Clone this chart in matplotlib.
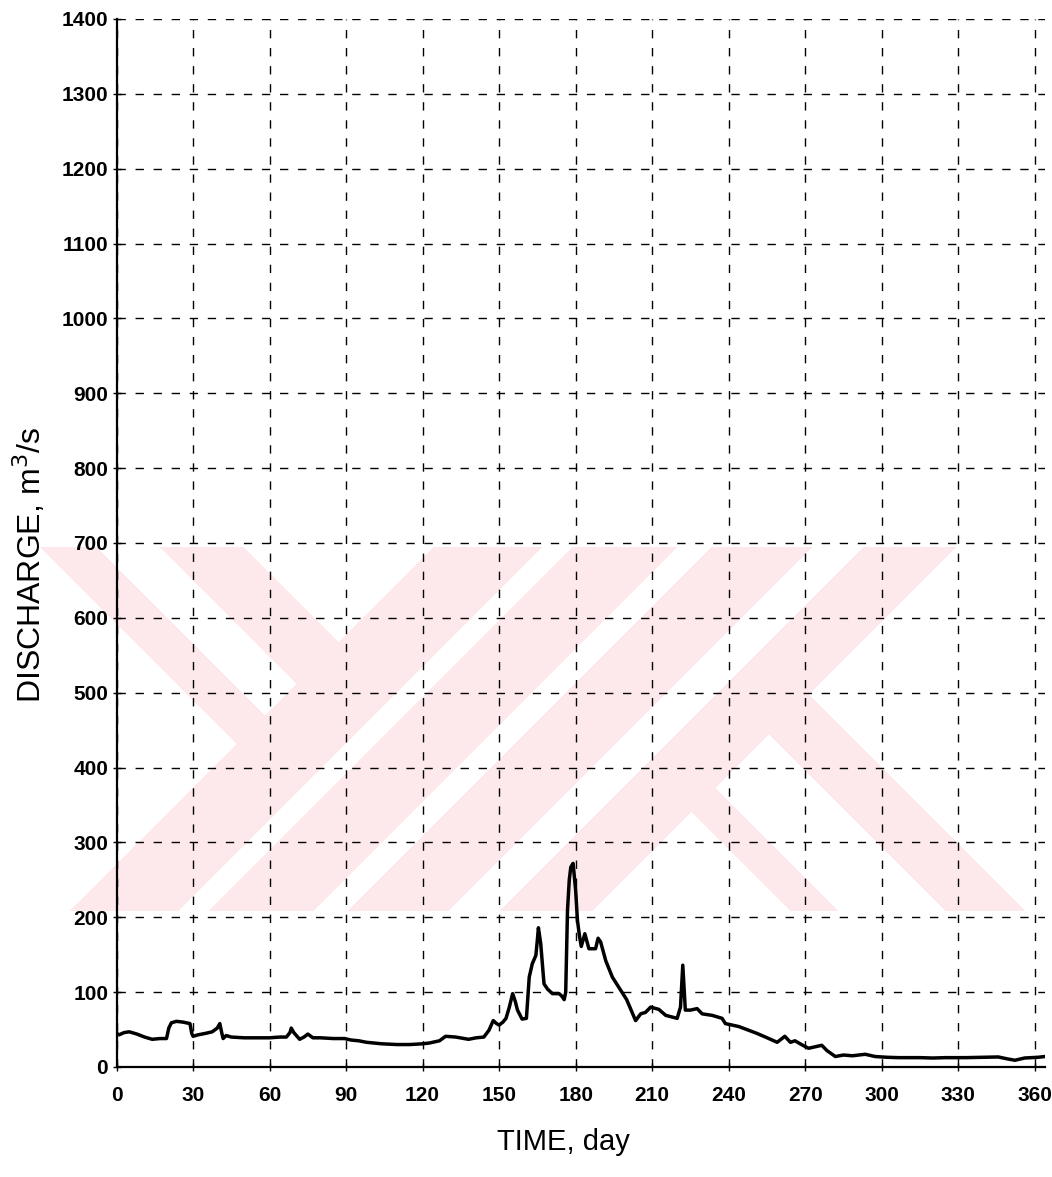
#
#  plot.py
#  Hydrogramme annuel : débit journalier en fonction du temps.
#

import numpy as np
import matplotlib
matplotlib.use('Agg')
import matplotlib.pyplot as plt

# ==========
# = Données =
# ==========

# Jour de l'année
jours = [0, 1, 3, 5, 8, 11, 14, 17, 19.6, 20.5, 21.5, 23.5, 26, 28.8, 29.5,
         30, 32, 35, 37.5, 39.5, 40.5, 41.3, 41.8, 43, 45, 50, 55, 60, 64,
         66.6, 68, 68.5, 69.5, 71.8, 73.5, 75, 77, 80, 85, 89.4, 92, 95, 98,
         101, 104, 110, 115, 120, 122.6, 126.6, 129, 133, 138, 141, 144, 146,
         147.7, 149, 150, 151.5, 152.7, 154, 155.3, 156.3, 157.2, 159, 160.7,
         161.8, 163, 164.4, 165, 165.4, 166.3, 167.6, 169, 170.9, 173.5,
         174.5, 175.5, 176.1, 176.8, 177.5, 178.1, 179, 180, 180.7, 181.5,
         182.2, 183.6, 185.2, 187.8, 188.8, 189.8, 191.8, 194.4, 197.6, 200,
         203.5, 205.5, 207.4, 209.4, 212.6, 215.3, 219.8, 221.1, 222, 223,
         225, 227.6, 229.6, 233.5, 237.4, 238.7, 244, 247.9, 251, 254.4, 257,
         259, 262, 264.2, 266, 268.5, 271.3, 274, 276.5, 278.5, 281.8, 285,
         288.5, 293.5, 297.4, 302, 306.5, 315, 320, 325, 333, 340, 345.7, 349,
         352.2, 356, 361.3, 364]

# Débit (m3/s)
debits = [45, 43, 46, 47, 44, 40, 37, 38, 38, 52, 59, 61, 60, 58, 45,
          41, 43, 45, 47, 52, 58, 45, 38, 42, 40, 39, 39, 39, 40,
          40, 46, 52, 46, 37, 40, 44, 39, 39, 38, 38, 36, 35, 33,
          32, 31, 30, 30, 31, 32, 35, 41, 40, 37, 39, 40, 49,
          62, 58, 56, 60, 65, 80, 98, 88, 76, 64, 65,
          120, 138, 149, 170, 186, 165, 111, 104, 98, 98,
          95, 90, 100, 209, 250, 267, 272, 236, 196, 175,
          161, 178, 158, 158, 172, 167, 142, 120, 103, 90,
          62, 71, 73, 80, 77, 69, 65, 80, 136, 76,
          76, 78, 71, 69, 65, 58, 54, 49, 45, 40, 36,
          33, 41, 33, 35, 30, 25, 27, 29, 22, 14, 16,
          15, 17, 14, 13, 12.5, 12.5, 12, 12.5, 12.5, 13, 13.4, 11,
          9, 12, 13, 14]

graduations_x = np.arange(0, 361, 30)
graduations_y = np.arange(0, 1401, 100)

# ===========
# = Figure =
# ===========

L, H = 1052, 1177
fig = plt.figure(figsize=(L / 100, H / 100), dpi=100)

# Filigrane rose en arrière-plan (bandes obliques), en pixels de la figure
yy, xx = np.mgrid[0:H, 0:L]
s = xx + yy
d = xx - yy
haut_gauche = (s < 980) & (((d >= -507) & (d < -450)) | ((d >= -387) & (d < -303)))
bandes = (((s >= 980) & (s < 1089)) | ((s >= 1119) & (s < 1224)) |
          ((s >= 1258) & (s < 1359)) | ((s >= 1410) & (s < 1503)))
bas_droite = (s >= 1503) & (((d >= -120) & (d < -72)) | ((d >= 35) & (d < 115)))
rose = (yy >= 547) & (yy <= 910) & (haut_gauche | bandes | bas_droite)
filigrane = np.zeros((H, L, 4))
filigrane[..., 0] = 253 / 255
filigrane[..., 1] = 233 / 255
filigrane[..., 2] = 236 / 255
filigrane[..., 3] = rose.astype(float)
fig.figimage(filigrane, xo=0, yo=0, origin='upper', zorder=-1)

ax = fig.add_axes([116.5 / L, (H - 1067) / H, (1045 - 116.5) / L, 1048 / H])
ax.set_facecolor('none')

ax.plot(jours, debits, color='black', linewidth=2.5, solid_joinstyle='round')

ax.set_xlim(0, 364)
ax.set_ylim(0, 1400)
ax.set_xticks(graduations_x)
ax.set_yticks(graduations_y)

police = 'Liberation Sans'
for etiquette in ax.get_xticklabels() + ax.get_yticklabels():
    etiquette.set_fontfamily(police)
    etiquette.set_fontweight('bold')
    etiquette.set_fontsize(15)

ax.tick_params(axis='both', direction='inout', length=6, width=1.0, color='black')
ax.tick_params(axis='x', pad=11)
ax.tick_params(axis='y', pad=3)

# Grille pointillée
ax.grid(True, color='black', linestyle=(0, (6, 7)), linewidth=1.0)
ax.set_axisbelow(False)

for cote in ('top', 'right'):
    ax.spines[cote].set_visible(False)
for cote in ('left', 'bottom'):
    ax.spines[cote].set_linewidth(1.6)

ax.set_xlabel('TIME, day', fontfamily=police, fontsize=21)
ax.set_ylabel('DISCHARGE, m$^3$/s', fontfamily=police, fontsize=23)
ax.xaxis.set_label_coords(0.481, -0.058)
ax.yaxis.label.set_verticalalignment('center')
ax.yaxis.set_label_coords(-0.094, 0.479)

fig.savefig('out.png', dpi=100)
